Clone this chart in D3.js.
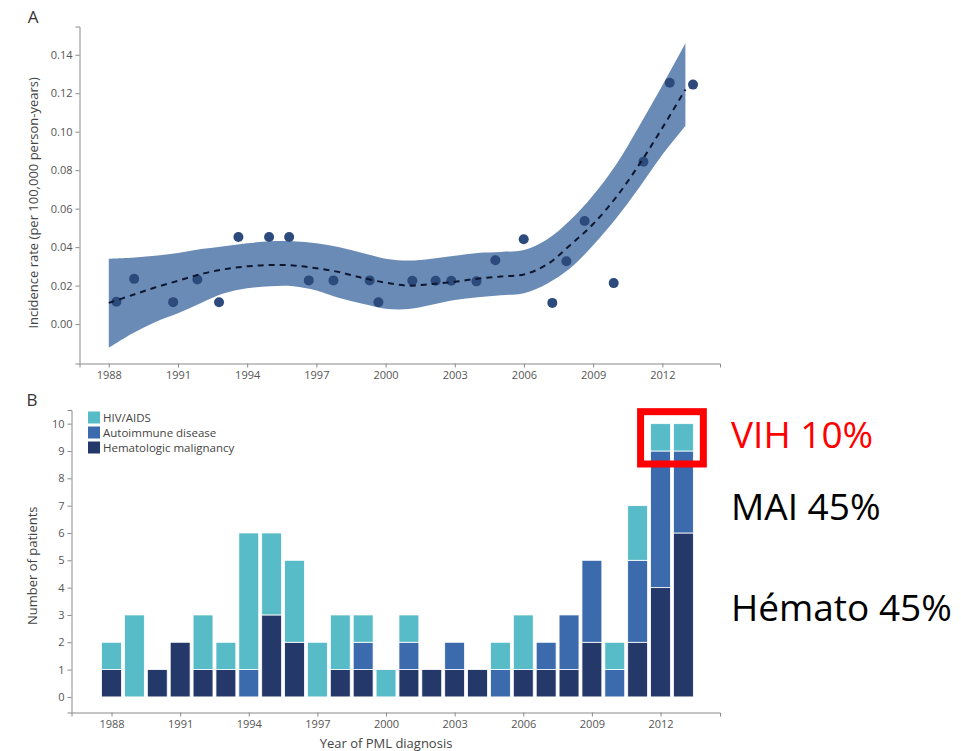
<!DOCTYPE html>
<meta charset="utf-8">
<head>
  <title>PML incidence and patients by year</title>
  <style>
    body { margin: 0; background: #fff; }
    text { font-family: "Open Sans", sans-serif; }
    .axis path, .axis line { stroke: #8a8a8a; }
    .axis text { fill: #555; font-size: 11px; }
  </style>
</head>
<body>
<script src="https://cdn.jsdelivr.net/npm/d3@7/dist/d3.min.js"></script>
<div id="chart"></div>
<script>

  // panel A: observed incidence rates
  var pointYears = [1988.33, 1989.1, 1990.79, 1991.84, 1992.78, 1993.62, 1994.95, 1995.82, 1996.67, 1997.74,
                    1999.31, 1999.69, 2001.16, 2002.17, 2002.85, 2003.94, 2004.76, 2005.99, 2007.23, 2007.84,
                    2008.63, 2009.89, 2011.18, 2012.32, 2013.33];
  var pointRates = [0.0116, 0.0235, 0.0114, 0.0232, 0.0113, 0.0453, 0.0453, 0.0453, 0.0227, 0.0227,
                    0.0227, 0.0113, 0.0225, 0.0225, 0.0225, 0.0222, 0.0332, 0.0441, 0.011, 0.0327,
                    0.0536, 0.0213, 0.0844, 0.1255, 0.1245];

  // panel A: smoothed fit and its confidence band
  var fitYears = d3.range(1988, 2014);
  var fitLine  = [0.011, 0.015, 0.019, 0.0225, 0.026, 0.0285, 0.030, 0.0307, 0.0305, 0.029, 0.027, 0.024, 0.0215,
                  0.020, 0.0208, 0.022, 0.0236, 0.0247, 0.0258, 0.031, 0.041, 0.052, 0.066, 0.083, 0.102, 0.122];
  var fitLower = [-0.0123, -0.005, 0.001, 0.0056, 0.011, 0.016, 0.0186, 0.0197, 0.0197, 0.0175, 0.0135, 0.0105, 0.008,
                  0.0078, 0.010, 0.0125, 0.014, 0.015, 0.016, 0.021, 0.029, 0.041, 0.055, 0.071, 0.088, 0.103];
  var fitUpper = [0.034, 0.0345, 0.0355, 0.037, 0.039, 0.0405, 0.042, 0.043, 0.043, 0.042, 0.040, 0.037, 0.034,
                  0.033, 0.034, 0.0355, 0.037, 0.0375, 0.0385, 0.044, 0.054, 0.067, 0.083, 0.103, 0.124, 0.146];

  // panel B: patients per year by underlying condition
  var barYears   = d3.range(1988, 2014);
  var hematologic = [1, 0, 1, 2, 1, 1, 0, 3, 2, 0, 1, 1, 0, 1, 1, 1, 1, 0, 1, 1, 1, 2, 0, 2, 4, 6];
  var autoimmune  = [0, 0, 0, 0, 0, 0, 1, 0, 0, 0, 0, 1, 0, 1, 0, 1, 0, 1, 0, 1, 2, 3, 1, 3, 5, 3];
  var hivAids     = [1, 3, 0, 0, 2, 1, 5, 3, 3, 2, 2, 1, 1, 1, 0, 0, 0, 1, 2, 0, 0, 0, 1, 2, 1, 1];

  var seriesNames = ['Hematologic malignancy', 'Autoimmune disease', 'HIV/AIDS'];
  var legendOrder = ['HIV/AIDS', 'Autoimmune disease', 'Hematologic malignancy'];
  var tickYears = [1988, 1991, 1994, 1997, 2000, 2003, 2006, 2009, 2012];
  var rateTicks = [0, 0.02, 0.04, 0.06, 0.08, 0.10, 0.12, 0.14];
  var countTicks = d3.range(0, 11);

  var annotations = [
    { label: 'VIH 10%', color: '#ff0000', y: 448 },
    { label: 'MAI 45%', color: '#000', y: 520 },
    { label: 'Hémato 45%', color: '#000', y: 621 }
  ];

  var width = 961, height = 751;

  var svg = d3.select('#chart')
    .append('svg')
    .attr('width', width)
    .attr('height', height);

  var color = d3.scaleOrdinal()
    .domain(seriesNames)
    .range(['#25386a', '#3b6aad', '#58bcc8']);

  // ---------- panel A ----------
  var xA = d3.scaleLinear().domain([1986.73, 2014.5]).range([79.5, 720]);
  var yA = d3.scaleLinear().domain([-0.0205, 0.1547]).range([363.5, 26.5]);

  var band = d3.area()
    .curve(d3.curveCatmullRom)
    .x(function(d, i) { return xA(fitYears[i]); })
    .y0(function(d, i) { return yA(fitLower[i]); })
    .y1(function(d, i) { return yA(fitUpper[i]); });

  svg.append('path')
    .datum(fitYears)
    .attr('d', band)
    .attr('fill', '#6a8bb6');

  var fit = d3.line()
    .curve(d3.curveCatmullRom)
    .x(function(d, i) { return xA(fitYears[i]); })
    .y(function(d, i) { return yA(fitLine[i]); });

  svg.selectAll('.pt')
    .data(pointYears)
    .enter()
    .append('circle')
    .attr('class', 'pt')
    .attr('cx', function(d) { return xA(d); })
    .attr('cy', function(d, i) { return yA(pointRates[i]); })
    .attr('r', 5)
    .attr('fill', '#2d4a7c');

  svg.append('path')
    .datum(fitYears)
    .attr('d', fit)
    .attr('fill', 'none')
    .attr('stroke', '#0e1730')
    .attr('stroke-width', 2)
    .attr('stroke-dasharray', '6,5');

  svg.append('g')
    .attr('class', 'axis')
    .attr('transform', 'translate(0,363.5)')
    .call(d3.axisBottom(xA).tickValues(tickYears).tickFormat(d3.format('d')).tickSizeOuter(0).tickSize(4).tickPadding(4));

  svg.append('g')
    .attr('class', 'axis')
    .attr('transform', 'translate(79.5,0)')
    .call(d3.axisLeft(yA).tickValues(rateTicks).tickFormat(d3.format('.2f')).tickSizeOuter(0).tickSize(4).tickPadding(3));

  svg.append('text')
    .attr('x', 33).attr('y', 23)
    .attr('text-anchor', 'middle')
    .attr('font-size', 17)
    .attr('fill', '#333')
    .text('A');

  svg.append('text')
    .attr('transform', 'translate(38,' + yA(0.063) + ') rotate(-90)')
    .attr('text-anchor', 'middle')
    .attr('font-size', 13)
    .attr('fill', '#444')
    .text('Incidence rate (per 100,000 person-years)');

  // ---------- panel B ----------
  var xB = d3.scaleLinear().domain([1986.25, 2014.6]).range([71.5, 720]);
  var yB = d3.scaleLinear().domain([-0.57, 10.5]).range([712.5, 410]);
  var barW = (xB(1) - xB(0)) * 0.87;

  var table = barYears.map(function(yr, i) {
    return { year: yr, 'Hematologic malignancy': hematologic[i], 'Autoimmune disease': autoimmune[i], 'HIV/AIDS': hivAids[i] };
  });
  var stacked = d3.stack().keys(seriesNames)(table);

  svg.append('g')
    .selectAll('g')
    .data(stacked)
    .enter()
    .append('g')
    .attr('fill', function(d) { return color(d.key); })
    .selectAll('rect')
    .data(function(d) { return d.filter(function(s) { return s[1] > s[0]; }); })
    .enter()
    .append('rect')
    .attr('x', function(d) { return xB(d.data.year) - barW / 2; })
    .attr('y', function(d) { return yB(d[1]); })
    .attr('width', barW)
    .attr('height', function(d) { return yB(d[0]) - yB(d[1]); })
    .attr('stroke', '#fff')
    .attr('stroke-width', 0.8);

  svg.append('g')
    .attr('class', 'axis')
    .attr('transform', 'translate(0,712.5)')
    .call(d3.axisBottom(xB).tickValues(tickYears).tickFormat(d3.format('d')).tickSizeOuter(0).tickSize(4).tickPadding(4));

  svg.append('g')
    .attr('class', 'axis')
    .attr('transform', 'translate(71.5,0)')
    .call(d3.axisLeft(yB).tickValues(countTicks).tickSizeOuter(0).tickSize(4).tickPadding(3));

  svg.append('text')
    .attr('x', 32).attr('y', 406)
    .attr('text-anchor', 'middle')
    .attr('font-size', 17)
    .attr('fill', '#333')
    .text('B');

  svg.append('text')
    .attr('transform', 'translate(37,' + yB(4.8) + ') rotate(-90)')
    .attr('text-anchor', 'middle')
    .attr('font-size', 13)
    .attr('fill', '#444')
    .text('Number of patients');

  svg.append('text')
    .attr('x', xB(2000)).attr('y', 748)
    .attr('text-anchor', 'middle')
    .attr('font-size', 13)
    .attr('fill', '#444')
    .text('Year of PML diagnosis');

  var legend = svg.selectAll('.leg')
    .data(legendOrder)
    .enter()
    .append('g')
    .attr('class', 'leg')
    .attr('transform', function(d, i) { return 'translate(88,' + (411.5 + i * 15) + ')'; });

  legend.append('rect')
    .attr('width', 12).attr('height', 12)
    .attr('fill', function(d) { return color(d); });

  legend.append('text')
    .attr('x', 15).attr('y', 10)
    .attr('font-size', 11.5)
    .attr('fill', '#444')
    .text(function(d) { return d; });

  // highlight box round the HIV share of the last two years
  svg.append('rect')
    .attr('x', xB(2012) - barW / 2 - 10)
    .attr('y', yB(10) - 12)
    .attr('width', xB(2013) - xB(2012) + barW + 20)
    .attr('height', yB(9) - yB(10) + 25)
    .attr('fill', 'none')
    .attr('stroke', '#ff0000')
    .attr('stroke-width', 7);

  svg.selectAll('.note')
    .data(annotations)
    .enter()
    .append('text')
    .attr('class', 'note')
    .attr('x', 731)
    .attr('y', function(d) { return d.y; })
    .attr('font-family', '"Liberation Sans", Arial, sans-serif')
    .attr('font-size', 37)
    .attr('fill', function(d) { return d.color; })
    .text(function(d) { return d.label; });

</script>
</body>
